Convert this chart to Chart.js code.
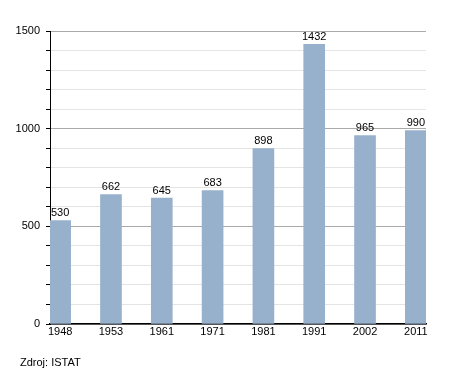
<html>
<head>
    <style>
        body { margin: 0; background: #fff; }
        #wrap { position: relative; width: 455px; height: 373px; }
        #source { position: absolute; left: 20px; top: 356px; font: 11px "Liberation Sans", Arial, sans-serif; color: #000; }
    </style>
    <script src="https://cdn.jsdelivr.net/npm/chart.js@4.4.0/dist/chart.umd.min.js"></script>
</head>
<body>
<div id="wrap">
    <canvas id="myChart" width="455" height="373"></canvas>
    <div id="source">Zdroj: ISTAT</div>
</div>
<script>
    var years = ["1948", "1953", "1961", "1971", "1981", "1991", "2002", "2011"];
    var population = [530, 662, 645, 683, 898, 1432, 965, 990];
    var yLabels = [0, 500, 1000, 1500];

    var points = [];
    for (var i = 0; i < years.length; i++) {
        points.push({ x: i, y: population[i] });
    }

    // numbers above the bars
    var valueLabels = {
        id: 'valueLabels',
        afterDatasetsDraw: function(chart) {
            var ctx = chart.ctx;
            var meta = chart.getDatasetMeta(0);
            ctx.save();
            ctx.font = '11px "Liberation Sans", Arial, sans-serif';
            ctx.fillStyle = '#000';
            ctx.textAlign = 'center';
            ctx.textBaseline = 'bottom';
            meta.data.forEach(function(bar, i) {
                ctx.fillText(population[i], bar.x, bar.y - 2);
            });
            ctx.restore();
        }
    };

    Chart.defaults.font.family = '"Liberation Sans", Arial, sans-serif';
    Chart.defaults.font.size = 11;
    Chart.defaults.color = '#000';

    var chart = new Chart(document.getElementById('myChart').getContext('2d'), {
        type: 'bar',
        data: {
            datasets: [{
                data: points,
                backgroundColor: '#97b1cc',
                barThickness: 21
            }]
        },
        options: {
            responsive: false,
            animation: false,
            layout: { padding: { left: 0, top: 31, right: 29, bottom: 29 } },
            plugins: { legend: { display: false }, tooltip: { enabled: false } },
            scales: {
                x: {
                    type: 'linear',
                    min: -0.2,
                    max: 7.2,
                    offset: false,
                    afterBuildTicks: function(scale) {
                        scale.ticks = years.map(function(y, i) { return { value: i }; });
                    },
                    ticks: {
                        padding: 1,
                        autoSkip: false,
                        maxRotation: 0,
                        callback: function(v) { return years[v]; }
                    },
                    grid: { display: false, drawTicks: false, offset: false },
                    border: { color: '#000', width: 1.5 },
                    afterFit: function(scale) { scale.height = 20; }
                },
                y: {
                    min: 0,
                    max: 1500,
                    ticks: {
                        stepSize: 100,
                        padding: 6,
                        callback: function(v) { return yLabels.indexOf(v) >= 0 ? v : ''; }
                    },
                    grid: {
                        color: function(c) { return c.tick && c.tick.value % 500 === 0 ? '#aaaaaa' : '#e4e4e4'; },
                        tickColor: '#000',
                        tickLength: 4
                    },
                    border: { color: '#000', width: 1 },
                    afterFit: function(scale) { scale.width = 50; }
                }
            }
        },
        plugins: [valueLabels]
    });
</script>
</body>
</html>
